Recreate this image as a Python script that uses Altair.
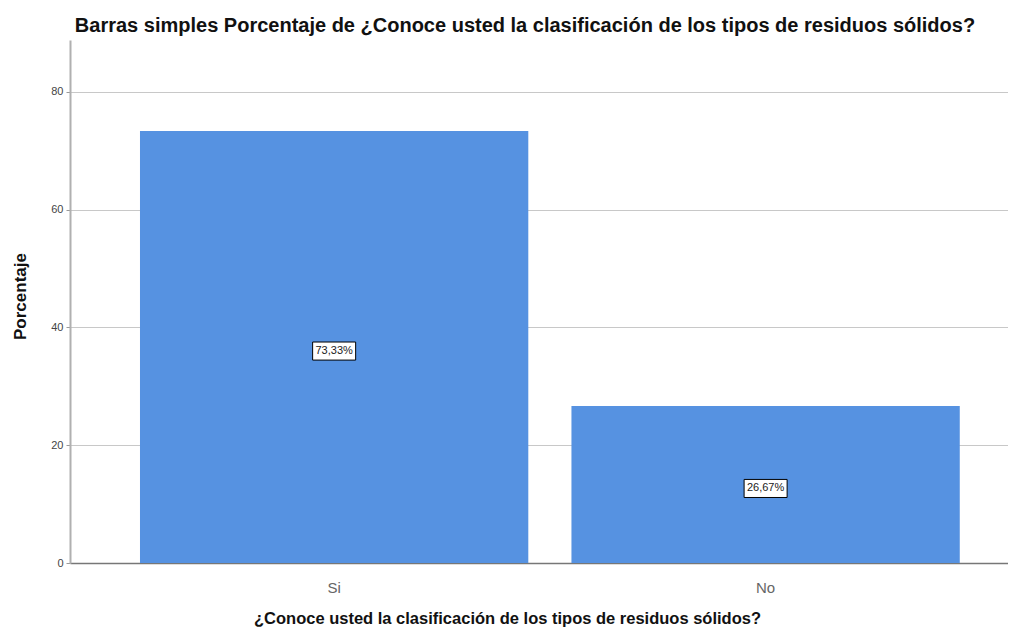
import altair as alt
import pandas as pd

categories = ["Si", "No"]
values = [73.33, 26.67]
labels = ["73,33%", "26,67%"]

df = pd.DataFrame({"cat": categories, "pct": values, "label": labels})
df["mid"] = df["pct"] / 2

FONT = "Liberation Sans"
BAR = "#5692e1"

x_enc = alt.X(
    "cat:N",
    sort=categories,
    scale=alt.Scale(paddingInner=0.1, paddingOuter=0.137, align=0.592),
    axis=alt.Axis(
        title="¿Conoce usted la clasificación de los tipos de residuos sólidos?",
        titleFont=FONT, titleFontSize=16.5, titleFontWeight="bold", titleColor="#111",
        titleX=437, titleY=55, titleBaseline="middle", titleAlign="center",
        labelFont=FONT, labelFontSize=15, labelColor="#666", labelAngle=0,
        labelPadding=17, ticks=False, tickSize=0,
        domainColor="#777", domainWidth=1.5, grid=False,
    ),
)

y_scale = alt.Scale(domain=[0, 88.8], nice=False)

bars = alt.Chart(df).mark_bar(color=BAR).encode(
    x=x_enc,
    y=alt.Y(
        "pct:Q",
        scale=y_scale,
        axis=alt.Axis(
            title="Porcentaje", values=[0, 20, 40, 60, 80],
            titleFont=FONT, titleFontSize=17, titleFontWeight="bold", titleColor="#111",
            titleAngle=-90, titleX=-50, titleY=256, titleBaseline="middle", titleAlign="center",
            labelFont=FONT, labelFontSize=11, labelColor="#444", labelPadding=3,
            tickSize=4, tickColor="#999", domainColor="#b0b0b0", domainWidth=2,
            grid=True, gridColor="#c8c8c8", gridWidth=1,
        ),
    ),
)

boxes = alt.Chart(df).mark_point(
    shape="M-1,-0.42L1,-0.42L1,0.42L-1,0.42Z",
    size=1850, filled=True, fill="white", stroke="black", strokeWidth=1, opacity=1,
    yOffset=4,
).encode(
    x=alt.X("cat:N", sort=categories),
    y=alt.Y("mid:Q", scale=y_scale),
)

texts = alt.Chart(df).mark_text(
    font=FONT, fontSize=11, color="#222", baseline="middle", align="center", dy=4,
).encode(
    x=alt.X("cat:N", sort=categories),
    y=alt.Y("mid:Q", scale=y_scale),
    text="label:N",
)

chart = alt.layer(bars, boxes, texts).properties(
    width=938, height=523,
    title=alt.TitleParams(
        "Barras simples Porcentaje de ¿Conoce usted la clasificación de los tipos de residuos sólidos?",
        font=FONT, fontSize=20, fontWeight="bold", color="#111", anchor="middle", dx=-14, offset=4,
    ),
    autosize=alt.AutoSizeParams(type="none"),
    padding={"left": 62, "top": 32, "right": 0, "bottom": 65},
).configure_view(stroke=None)

chart.save("out.html", embed_options={"renderer": "svg", "actions": False})
